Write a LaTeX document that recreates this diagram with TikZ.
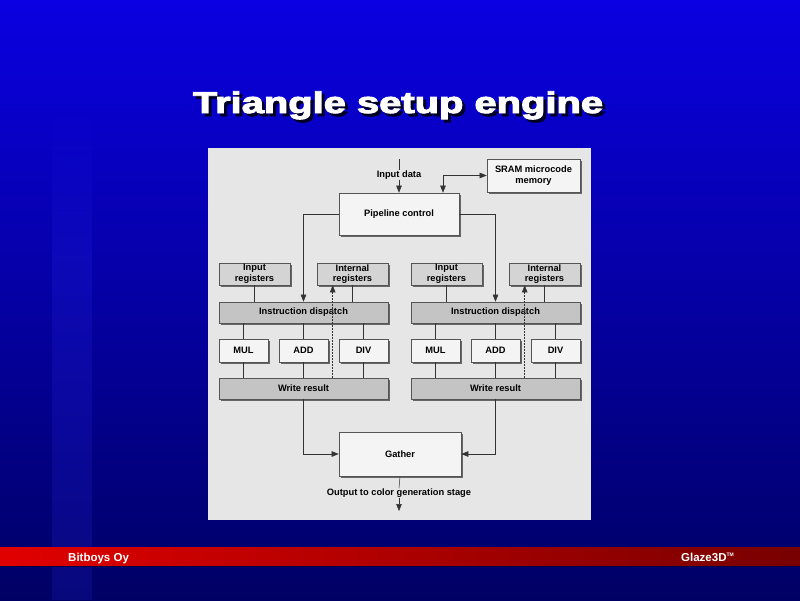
\documentclass[tikz,border=0pt]{standalone}
\usepackage{fontspec}
\setmainfont{Liberation Sans}
\newfontface\titlefont[FakeBold=3]{Liberation Sans Bold}
\usetikzlibrary{arrows.meta,shadows,fadings}
\definecolor{bgtop}{RGB}{10,0,225}
\definecolor{bgbot}{RGB}{0,0,100}
\definecolor{panel}{RGB}{230,230,230}
\definecolor{boxlight}{RGB}{244,244,244}
\definecolor{boxmid}{RGB}{212,212,212}
\definecolor{boxdark}{RGB}{196,196,196}
\definecolor{edge}{RGB}{85,85,85}
\definecolor{redL}{RGB}{225,0,0}
\definecolor{redR}{RGB}{120,0,0}
\tikzset{
  blk/.style={draw=edge, line width=0.6pt, inner sep=0pt, align=center,
    font=\fontsize{9.3}{10.5}\selectfont\bfseries, text=black,
    drop shadow={shadow xshift=1.5pt, shadow yshift=-1.5pt, fill=black!60, opacity=1}},
  lightbox/.style={blk, fill=boxlight},
  midbox/.style={blk, fill=boxmid},
  darkbox/.style={blk, fill=boxdark},
  lbl/.style={inner sep=0pt, font=\fontsize{9.3}{10}\selectfont\bfseries, text=black},
  wire/.style={draw=black!80, line width=0.5pt},
  arr/.style={wire, -{Triangle[length=7pt,width=5.5pt]}},
  darr/.style={wire, {Triangle[length=7pt,width=5.5pt]}-{Triangle[length=7pt,width=5.5pt]}},
  dotarr/.style={wire, densely dotted, -{Triangle[length=7pt,width=5.5pt]}},
  foot/.style={inner sep=0pt, text=white, font=\fontsize{11.5}{12}\selectfont\bfseries},
  ttl/.style={inner sep=0pt, anchor=base, font=\titlefont\fontsize{30}{34}\selectfont}
}
\begin{document}
\begin{tikzpicture}[x=1pt,y=-1pt]
\useasboundingbox (0,0) rectangle (800,600);
% background
\shade[top color=bgtop, bottom color=bgbot] (0,0) rectangle (800,600);
\fill[blue!80!white, opacity=0.16, path fading=north] (52,100) rectangle (92,260);
\fill[blue!80!white, opacity=0.16] (52,260) rectangle (92,600);
% footer bar
\shade[left color=redL, right color=redR] (0,547) rectangle (800,566);
\draw[bgbot!70!black, line width=0.6pt] (0,566) -- (800,566);
\node[foot, anchor=base west] (bb) at (68,561) {Bitboys Oy};
\node[foot, anchor=base east] (gz) at (734,561) {Glaze3D\raisebox{0.8ex}{\fontsize{5}{5}\selectfont TM}};
% title
\node[ttl, text=black!85!blue] (tsh) at (401,116) {\scalebox{1.33}[1]{Triangle setup engine}};
\node[ttl, text=white] (title) at (398,113) {\scalebox{1.33}[1]{Triangle setup engine}};
% panel
\fill[panel] (208,148) rectangle (591,520);
% nodes
\node[lightbox, minimum width=120pt, minimum height=42pt] (pipe) at (399,214) {Pipeline control};
\node[lightbox, minimum width=93pt, minimum height=33pt] (sram) at (533.5,175.5) {SRAM microcode\\memory};
\node[lbl] (indata) at (399,175) {Input data};
\coordinate (intop) at (399,159);
% left block
\node[midbox, minimum width=71pt, minimum height=22pt] (inL) at (254.5,274) {Input\\registers};
\node[midbox, minimum width=71pt, minimum height=22pt] (intL) at (352.5,274) {Internal\\registers};
\node[darkbox, minimum width=169pt, minimum height=21pt] (dispL) at (303.5,312.5) {Instruction dispatch};
\node[lightbox, minimum width=49pt, minimum height=23pt] (mulL) at (243.5,350.5) {MUL};
\node[lightbox, minimum width=49pt, minimum height=23pt] (addL) at (303.5,350.5) {ADD};
\node[lightbox, minimum width=49pt, minimum height=23pt] (divL) at (363.5,350.5) {DIV};
\node[darkbox, minimum width=169pt, minimum height=21pt] (wrL) at (303.5,388.5) {Write result};
% right block
\node[midbox, minimum width=71pt, minimum height=22pt] (inR) at (446.5,274) {Input\\registers};
\node[midbox, minimum width=71pt, minimum height=22pt] (intR) at (544.5,274) {Internal\\registers};
\node[darkbox, minimum width=169pt, minimum height=21pt] (dispR) at (495.5,312.5) {Instruction dispatch};
\node[lightbox, minimum width=49pt, minimum height=23pt] (mulR) at (435.5,350.5) {MUL};
\node[lightbox, minimum width=49pt, minimum height=23pt] (addR) at (495.5,350.5) {ADD};
\node[lightbox, minimum width=49pt, minimum height=23pt] (divR) at (555.5,350.5) {DIV};
\node[darkbox, minimum width=169pt, minimum height=21pt] (wrR) at (495.5,388.5) {Write result};
% gather
\node[lightbox, minimum width=122pt, minimum height=44pt] (gather) at (400,454) {Gather};
\node[lbl] (outtxt) at (399,493) {Output to color generation stage};
\coordinate (outend) at (399,511);
% connectors
\draw[wire] (intop) -- (indata.north);
\draw[arr] (indata.south) -- (pipe.north);
\draw[darr] (sram.west) -| ([xshift=44pt]pipe.north);
\draw[arr] (pipe.west) -| (dispL.north);
\draw[arr] (pipe.east) -| (dispR.north);
\foreach \s in {L,R}{
  \draw[wire] (in\s.south) -- (in\s.south |- disp\s.north);
  \draw[wire] (int\s.south) -- (int\s.south |- disp\s.north);
  \coordinate (dot\s) at ([xshift=16pt]int\s.south west);
  \draw[dotarr] (wr\s.north -| dot\s) -- (dot\s);
  \foreach \u in {mul,add,div}{
    \draw[wire] (\u\s.north |- disp\s.south) -- (\u\s.north);
    \draw[wire] (\u\s.south) -- (\u\s.south |- wr\s.north);
  }
}
\draw[arr] (wrL.south) |- (gather.west);
\draw[arr] (wrR.south) |- (gather.east);
\draw[wire] (gather.south) -- (outtxt.north);
\draw[arr] (outtxt.south) -- (outend);
\end{tikzpicture}
\end{document}
